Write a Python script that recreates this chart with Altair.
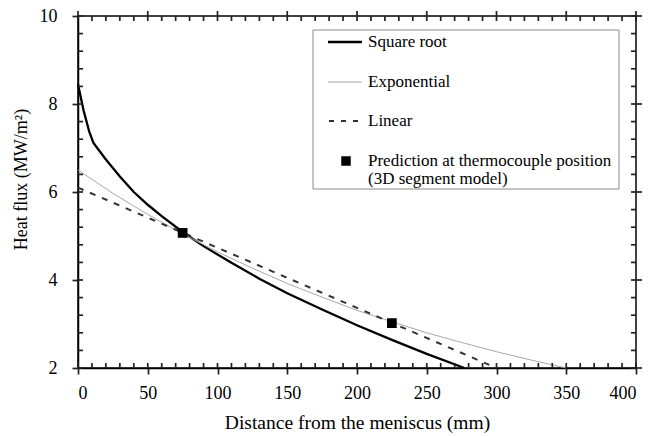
import altair as alt
import pandas as pd

# ---- data ----
sqrt_x = [0, 4, 8, 11, 15, 20, 30, 40, 50, 60, 75, 90, 110, 130, 150, 175, 200, 225, 250, 277]
sqrt_y = [8.45, 7.85, 7.38, 7.12, 6.95, 6.74, 6.35, 6.00, 5.71, 5.45, 5.09, 4.77, 4.39, 4.03,
          3.70, 3.33, 2.97, 2.64, 2.32, 2.00]

exp_x = [0, 25, 50, 75, 100, 125, 150, 175, 200, 225, 250, 275, 300, 325, 350]
exp_y = [6.50, 5.97, 5.49, 5.05, 4.64, 4.27, 3.92, 3.61, 3.31, 3.05, 2.80, 2.58, 2.37, 2.18, 2.00]

lin_x = [0, 300]
lin_y = [6.10, 2.00]

pred_x = [75, 225]
pred_y = [5.07, 3.02]

x_major = [0, 50, 100, 150, 200, 250, 300, 350, 400]
x_minor = list(range(0, 401, 10))
y_major = [2, 4, 6, 8, 10]
y_minor = [round(2 + 0.4 * i, 1) for i in range(21)]

legend_labels = ["Square root", "Exponential", "Linear",
                 "Prediction at thermocouple position", "(3D segment model)"]

W, H = 558, 352
FONT = "Liberation Serif"
TC = "#222222"
TW = 1.7

xs = alt.Scale(domain=[0, 400], nice=False, zero=False)
ys = alt.Scale(domain=[2, 10], nice=False, zero=False)

xaxis = alt.Axis(values=x_major, title="Distance from the meniscus (mm)", grid=False,
                 ticks=True, tickSize=6, tickColor=TC, tickWidth=TW, domainColor="black", domainWidth=1.5,
                 labelFont=FONT, labelFontSize=18, labelColor="black", labelPadding=10,
                 titleFont=FONT, titleFontSize=19.5, titleFontWeight="normal", titleColor="black",
                 titlePadding=11)
yaxis = alt.Axis(values=y_major, title="Heat flux (MW/m²)", grid=False,
                 ticks=True, tickSize=6, tickColor=TC, tickWidth=TW, domainColor="black", domainWidth=1.5,
                 labelFont=FONT, labelFontSize=18, labelColor="black", labelPadding=15,
                 titleFont=FONT, titleFontSize=18, titleFontWeight="normal", titleColor="black",
                 titlePadding=9, titleY=163)

df_sqrt = pd.DataFrame({"x": sqrt_x, "y": sqrt_y})
df_exp = pd.DataFrame({"x": exp_x, "y": exp_y})
df_lin = pd.DataFrame({"x": lin_x, "y": lin_y})
df_pred = pd.DataFrame({"x": pred_x, "y": pred_y})

base_axes = alt.Chart(df_sqrt).mark_line(color="black", strokeWidth=2.3).encode(
    x=alt.X("x:Q", scale=xs, axis=xaxis),
    y=alt.Y("y:Q", scale=ys, axis=yaxis),
)
exp_line = alt.Chart(df_exp).mark_line(color="#a8a8a8", strokeWidth=1).encode(
    x=alt.X("x:Q", scale=xs), y=alt.Y("y:Q", scale=ys))
lin_line = alt.Chart(df_lin).mark_line(color="#333333", strokeWidth=2, strokeDash=[6, 7]).encode(
    x=alt.X("x:Q", scale=xs), y=alt.Y("y:Q", scale=ys))
pts = alt.Chart(df_pred).mark_point(shape="square", filled=True, color="black", size=95, opacity=1).encode(
    x=alt.X("x:Q", scale=xs), y=alt.Y("y:Q", scale=ys))

# ---- ticks (inward minor, crossing major) ----
dfxm = pd.DataFrame({"x": x_minor})
dfxM = pd.DataFrame({"x": x_major})
dfym = pd.DataFrame({"y": y_minor})
dfyM = pd.DataFrame({"y": y_major})
tk = dict(color=TC, strokeWidth=TW)
bot_in = alt.Chart(dfxm).mark_rule(**tk).encode(
    x=alt.X("x:Q", scale=xs), y=alt.value(H - 5), y2=alt.value(H))
top_in = alt.Chart(dfxm).mark_rule(**tk).encode(
    x=alt.X("x:Q", scale=xs), y=alt.value(0), y2=alt.value(5))
top_out = alt.Chart(dfxM).mark_rule(**tk).encode(
    x=alt.X("x:Q", scale=xs), y=alt.value(-5), y2=alt.value(0))
left_in = alt.Chart(dfym).mark_rule(**tk).encode(
    y=alt.Y("y:Q", scale=ys), x=alt.value(0), x2=alt.value(5))
right_in = alt.Chart(dfym).mark_rule(**tk).encode(
    y=alt.Y("y:Q", scale=ys), x=alt.value(W - 5), x2=alt.value(W))
right_out = alt.Chart(dfyM).mark_rule(**tk).encode(
    y=alt.Y("y:Q", scale=ys), x=alt.value(W), x2=alt.value(W + 6))

# ---- legend (manual) ----
lx0, lx1, ly0, ly1 = 235, 541, 14, 173
one = pd.DataFrame({"a": [0]})
leg_box = alt.Chart(one).mark_rect(fill="white", stroke="#8a8a8a", strokeWidth=1).encode(
    x=alt.value(lx0), x2=alt.value(lx1), y=alt.value(ly0), y2=alt.value(ly1))
leg_l1 = alt.Chart(one).mark_rule(color="black", strokeWidth=2.3).encode(
    x=alt.value(250), x2=alt.value(284), y=alt.value(26))
leg_l2 = alt.Chart(one).mark_rule(color="#a8a8a8", strokeWidth=1).encode(
    x=alt.value(250), x2=alt.value(284), y=alt.value(66))
leg_l3 = alt.Chart(one).mark_rule(color="#333333", strokeWidth=2, strokeDash=[5, 7]).encode(
    x=alt.value(251), x2=alt.value(284), y=alt.value(105))
leg_sq = alt.Chart(one).mark_point(shape="square", filled=True, color="black", size=90, opacity=1).encode(
    x=alt.value(268), y=alt.value(145))
leg_ty = [26, 66, 105, 145, 163]
df_lt = pd.DataFrame({"t": legend_labels, "py": leg_ty})
leg_text = alt.Chart(df_lt).mark_text(align="left", baseline="middle", font=FONT, fontSize=17, color="black").encode(
    x=alt.value(290), y=alt.Y("py:Q", scale=None), text="t:N")

chart = alt.layer(
    base_axes, exp_line, lin_line, pts,
    bot_in, top_in, top_out, left_in, right_in, right_out,
    leg_box, leg_l1, leg_l2, leg_l3, leg_sq, leg_text,
).properties(
    width=W, height=H,
    autosize=alt.AutoSizeParams(type="none"),
    padding={"left": 78, "top": 16, "right": 25, "bottom": 68},
    background="white",
).configure_view(stroke="black", strokeWidth=1.5)

chart.save("out.html", embed_options={"renderer": "svg", "actions": False})
